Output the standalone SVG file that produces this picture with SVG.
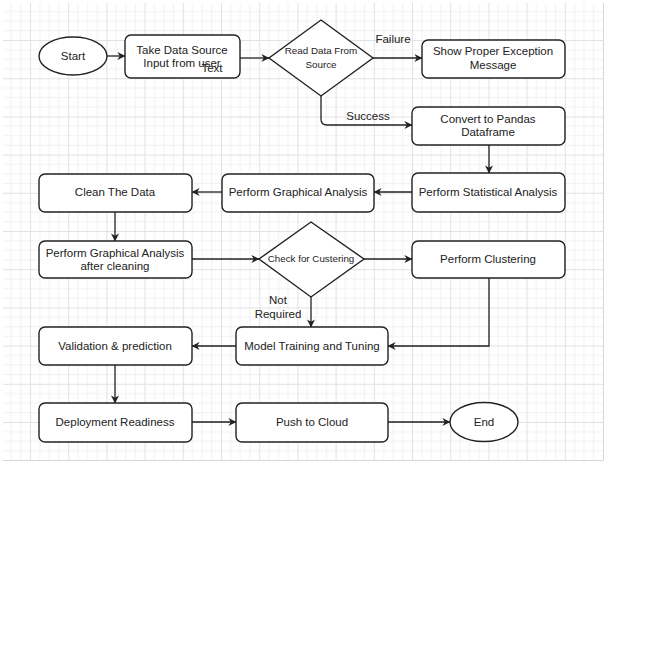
<svg xmlns="http://www.w3.org/2000/svg" width="670" height="670" viewBox="0 0 670 670">
<style>
.box{fill:#fff;stroke:#222;stroke-width:1.4}
.t{font-family:"Liberation Sans",Arial,sans-serif;font-size:11.5px;fill:#222;text-anchor:middle}
.s{font-family:"Liberation Sans",Arial,sans-serif;font-size:9.8px;fill:#222;text-anchor:middle}
.c{fill:none;stroke:#222;stroke-width:1.3}
</style>
<defs>
<pattern id="grid" x="30" y="40" width="38.2" height="38.2" patternUnits="userSpaceOnUse">
<rect x="0" y="0" width="38.2" height="38.2" fill="#fff"/>
<g fill="#f2f2f2">
<rect x="9.3" y="0" width="1" height="38.2"/><rect x="18.8" y="0" width="1" height="38.2"/><rect x="28.4" y="0" width="1" height="38.2"/>
<rect x="0" y="9.3" width="38.2" height="1"/><rect x="0" y="18.8" width="38.2" height="1"/><rect x="0" y="28.4" width="38.2" height="1"/>
</g>
<g fill="#e2e2e2">
<rect x="0" y="0" width="1" height="38.2"/><rect x="0" y="0" width="38.2" height="1"/>
</g>
</pattern>
<marker id="arr" viewBox="0 0 10 10" refX="9.5" refY="5" markerWidth="9" markerHeight="8" markerUnits="userSpaceOnUse" orient="auto">
<path d="M0,0 L10,5 L0,10 L3,5 z" fill="#222"/>
</marker>
</defs>
<rect x="0" y="0" width="670" height="670" fill="#fff"/>
<rect x="3" y="3" width="601" height="458" fill="url(#grid)"/>
<path d="M603.5,3 V460.5 H3" fill="none" stroke="#d8d8d8" stroke-width="1"/>

<g id="connectors">
<path class="c" d="M107,56 H125" marker-end="url(#arr)"/>
<path class="c" d="M240,58 H269" marker-end="url(#arr)"/>
<path class="c" d="M373,58 H422" marker-end="url(#arr)"/>
<path class="c" d="M321,96 V119 Q321,125 327,125 H412" marker-end="url(#arr)"/>
<path class="c" d="M489,145 V173" marker-end="url(#arr)"/>
<path class="c" d="M412,192 H374" marker-end="url(#arr)"/>
<path class="c" d="M222,192 H192" marker-end="url(#arr)"/>
<path class="c" d="M115,212 V241" marker-end="url(#arr)"/>
<path class="c" d="M192,259 H259" marker-end="url(#arr)"/>
<path class="c" d="M364,259 H412" marker-end="url(#arr)"/>
<path class="c" d="M489,278 V346 H388" marker-end="url(#arr)"/>
<path class="c" d="M311,297 V327" marker-end="url(#arr)"/>
<path class="c" d="M236,346 H192" marker-end="url(#arr)"/>
<path class="c" d="M115,365 V403" marker-end="url(#arr)"/>
<path class="c" d="M192,422 H236" marker-end="url(#arr)"/>
<path class="c" d="M388,422 H450" marker-end="url(#arr)"/>
<text class="t" x="393" y="43">Failure</text>
<text class="t" x="368" y="120">Success</text>
<text class="t" x="278" y="304">Not</text>
<text class="t" x="278" y="318">Required</text>
</g>

<g id="start">
<ellipse class="box" cx="73" cy="56" rx="34" ry="19"/>
<text class="t" x="73" y="60">Start</text>
</g>
<g id="take-input">
<rect class="box" x="125" y="35" width="115" height="43" rx="6"/>
<text class="t" x="182" y="54">Take Data Source</text>
<text class="t" x="182" y="67">Input from user</text>
<text class="t" x="212" y="72">Text</text>
</g>
<g id="read-data">
<polygon class="box" points="321,20 373,58 321,96 269,58"/>
<text class="s" x="321" y="54">Read Data From</text>
<text class="s" x="321" y="68">Source</text>
</g>
<g id="show-exception">
<rect class="box" x="422" y="40" width="143" height="38" rx="6"/>
<text class="t" x="493" y="55">Show Proper Exception</text>
<text class="t" x="493" y="69">Message</text>
</g>
<g id="convert-pandas">
<rect class="box" x="412" y="107" width="153" height="38" rx="6"/>
<text class="t" x="488" y="123">Convert to Pandas</text>
<text class="t" x="488" y="136">Dataframe</text>
</g>
<g id="statistical">
<rect class="box" x="412" y="173" width="153" height="39" rx="6"/>
<text class="t" x="488" y="196">Perform Statistical Analysis</text>
</g>
<g id="graphical">
<rect class="box" x="222" y="174" width="152" height="38" rx="6"/>
<text class="t" x="298" y="196">Perform Graphical Analysis</text>
</g>
<g id="clean">
<rect class="box" x="39" y="174" width="153" height="38" rx="6"/>
<text class="t" x="115" y="196">Clean The Data</text>
</g>
<g id="graphical-after">
<rect class="box" x="39" y="241" width="153" height="37" rx="6"/>
<text class="t" x="115" y="257">Perform Graphical Analysis</text>
<text class="t" x="115" y="270">after cleaning</text>
</g>
<g id="check-clustering">
<polygon class="box" points="311,222 364,259 311,297 259,259"/>
<text class="s" x="311" y="262">Check for Custering</text>
</g>
<g id="clustering">
<rect class="box" x="412" y="241" width="153" height="37" rx="6"/>
<text class="t" x="488" y="263">Perform Clustering</text>
</g>
<g id="model-training">
<rect class="box" x="236" y="327" width="152" height="38" rx="6"/>
<text class="t" x="312" y="350">Model Training and Tuning</text>
</g>
<g id="validation">
<rect class="box" x="39" y="327" width="153" height="38" rx="6"/>
<text class="t" x="115" y="350">Validation &amp; prediction</text>
</g>
<g id="deployment">
<rect class="box" x="39" y="403" width="153" height="39" rx="6"/>
<text class="t" x="115" y="426">Deployment Readiness</text>
</g>
<g id="push-cloud">
<rect class="box" x="236" y="403" width="152" height="39" rx="6"/>
<text class="t" x="312" y="426">Push to Cloud</text>
</g>
<g id="end">
<ellipse class="box" cx="484" cy="422" rx="34" ry="19.5"/>
<text class="t" x="484" y="426">End</text>
</g>
</svg>
